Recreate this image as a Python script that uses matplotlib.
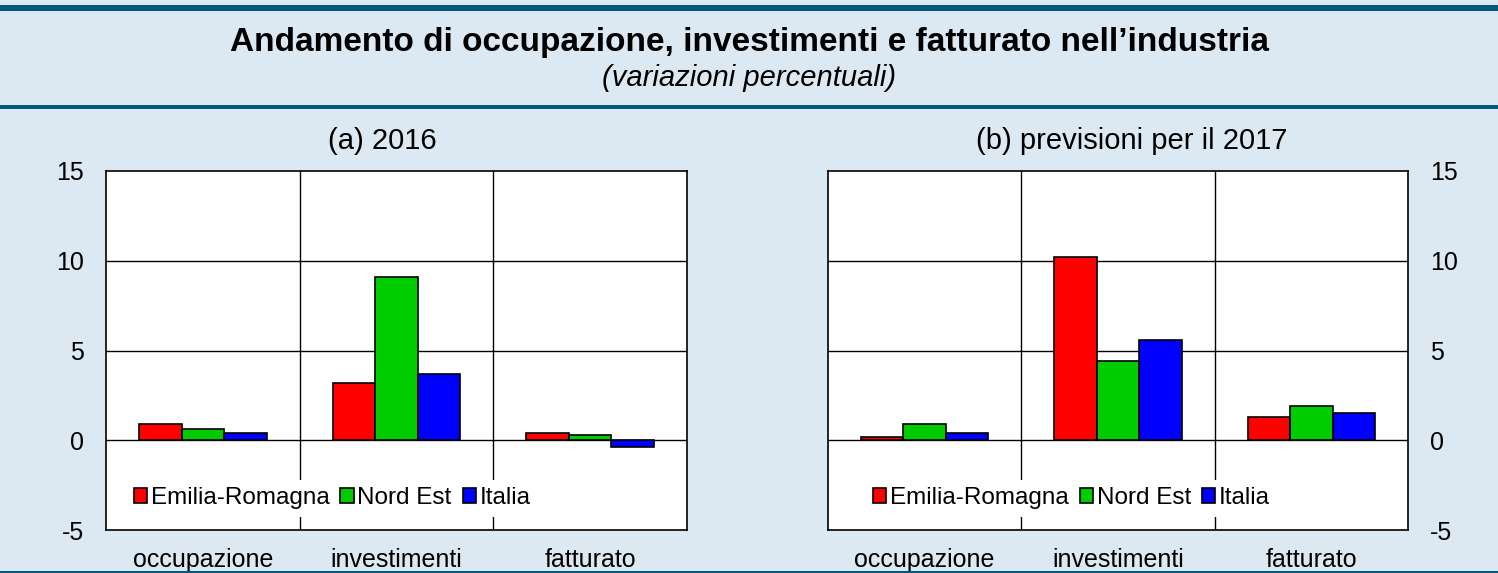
import matplotlib.pyplot as plt
import numpy as np

categories = ["occupazione", "investimenti", "fatturato"]
series = ["Emilia-Romagna", "Nord Est", "Italia"]
colors = ["#ff0000", "#00cc00", "#0000ff"]

# (a) 2016
vals_2016 = {
    "Emilia-Romagna": [0.9, 3.2, 0.4],
    "Nord Est": [0.6, 9.1, 0.3],
    "Italia": [0.4, 3.7, -0.4],
}
# (b) previsioni per il 2017
vals_2017 = {
    "Emilia-Romagna": [0.2, 10.2, 1.3],
    "Nord Est": [0.9, 4.4, 1.9],
    "Italia": [0.4, 5.6, 1.5],
}

yticks = [-5, 0, 5, 10, 15]

bg = "#dde9f2"
dark = "#005a80"
W, H = 1498, 573

plt.rcParams['font.family'] = ['Liberation Sans', 'DejaVu Sans']
plt.rcParams['axes.unicode_minus'] = False

fig = plt.figure(figsize=(W / 100, H / 100), dpi=100)
fig.patch.set_facecolor(bg)

# header bands
fig.add_artist(plt.Rectangle((0, 1 - 11 / H), 1, 6 / H, transform=fig.transFigure, color=dark, lw=0))
fig.add_artist(plt.Rectangle((0, 1 - 109 / H), 1, 4 / H, transform=fig.transFigure, color=dark, lw=0))
fig.add_artist(plt.Rectangle((0, 0), 1, 2 / H, transform=fig.transFigure, color=dark, lw=0))

fig.text(0.5, 1 - 42 / H, "Andamento di occupazione, investimenti e fatturato nell\u2019industria",
         ha="center", va="center", fontsize=24, fontweight="bold")
fig.text(0.5, 1 - 78 / H, "(variazioni percentuali)", ha="center", va="center",
         fontsize=21, style="italic")


def panel(x0, x1, data, title, title_x, side):
    y_top, y_bot = 171, 530
    ax = fig.add_axes([x0 / W, 1 - y_bot / H, (x1 - x0) / W, (y_bot - y_top) / H])
    ax.set_facecolor("white")
    x = np.arange(len(categories))
    bw = 0.22
    for i, s in enumerate(series):
        ax.bar(x + (i - 1) * bw, data[s], bw, color=colors[i], edgecolor="black",
               linewidth=1.2, label=s, zorder=3)
    ax.set_xlim(-0.5, 2.5)
    ax.set_ylim(-5, 15)
    ax.set_yticks(yticks)
    for y in [0, 5, 10]:
        ax.axhline(y, color="black", lw=1, zorder=2)
    for xv in [0.5, 1.5]:
        ax.axvline(xv, color="black", lw=1, zorder=1)
    ax.set_xticks(x)
    ax.set_xticklabels(categories, fontsize=18)
    ax.tick_params(axis="x", length=0, pad=13)
    ax.tick_params(axis="y", length=0, labelsize=18, pad=16)
    if side == "right":
        ax.yaxis.tick_right()
    for sp in ax.spines.values():
        sp.set_linewidth(1.2)
    fig.text(title_x / W, 1 - 141 / H, title, ha="center", va="center", fontsize=21)
    leg = ax.legend(loc="center left", bbox_to_anchor=(0.035 if side == "left" else 0.065, 0.088),
                    ncol=3, fontsize=17.5, frameon=True, handlelength=0.55, handleheight=0.55,
                    handletextpad=0.15, columnspacing=0.45, borderpad=0.3, borderaxespad=0)
    leg.get_frame().set_facecolor("white")
    leg.get_frame().set_edgecolor("none")
    leg.get_frame().set_alpha(1)
    leg.set_zorder(5)
    return ax


panel(106, 687, vals_2016, "(a) 2016", 382, "left")
panel(828, 1408, vals_2017, "(b) previsioni per il 2017", 1132, "right")

fig.savefig("out.png", dpi=100, facecolor=bg)
